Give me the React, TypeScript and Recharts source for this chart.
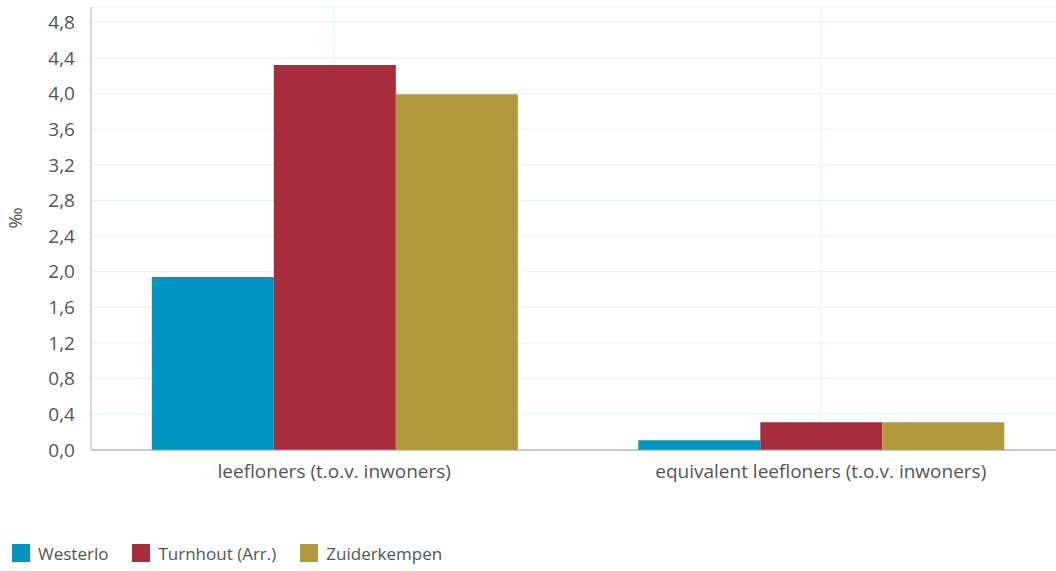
import React from 'react'
import {
  BarChart,
  Bar,
  XAxis,
  YAxis,
  CartesianGrid,
  Legend,
} from 'recharts'

const categories = ['leefloners (t.o.v. inwoners)', 'equivalent leefloners (t.o.v. inwoners)']
const westerlo = [1.94, 0.11]
const turnhout = [4.32, 0.31]
const zuiderkempen = [3.99, 0.31]
const yTicks = [0, 0.4, 0.8, 1.2, 1.6, 2.0, 2.4, 2.8, 3.2, 3.6, 4.0, 4.4, 4.8]

const series = [
  { key: 'westerlo', name: 'Westerlo', color: '#0096c1' },
  { key: 'turnhout', name: 'Turnhout (Arr.)', color: '#a82d3c' },
  { key: 'zuiderkempen', name: 'Zuiderkempen', color: '#b3993e' },
]

const data = categories.map((name, i) => ({
  name,
  westerlo: westerlo[i],
  turnhout: turnhout[i],
  zuiderkempen: zuiderkempen[i],
}))

const FONT = '"Open Sans", "Noto Sans", sans-serif'
const fmt = (v: number) => v.toFixed(1).replace('.', ',')

function LegendBox() {
  return (
    <div style={{ height: 36, display: 'flex', alignItems: 'center', fontFamily: FONT, fontSize: 17, color: '#555' }}>
      {series.map((s) => (
        <div key={s.key} style={{ display: 'flex', alignItems: 'center', marginRight: 24 }}>
          <span style={{ width: 18, height: 18, background: s.color, display: 'inline-block', marginRight: 8 }} />
          {s.name}
        </div>
      ))}
    </div>
  )
}

export default function App() {
  return (
    <div style={{ position: 'absolute', left: 0, top: 0, width: 1056, height: 571, overflow: 'hidden', background: '#fff' }}>
      <BarChart
        width={1070}
        height={571}
        data={data}
        margin={{ top: 7, right: 6, bottom: 0, left: 0 }}
        barCategoryGap="12.5%"
        barGap={0}
      >
        <CartesianGrid stroke="#e4f2f5" />
        <XAxis
          dataKey="name"
          height={85}
          tickLine={false}
          axisLine={{ stroke: '#999' }}
          tickMargin={9}
          tick={{ fontSize: 19, fill: '#555', fontFamily: FONT }}
        />
        <XAxis xAxisId="top" orientation="top" dataKey="name" height={0} tick={false} tickLine={false} axisLine={{ stroke: '#bbb' }} />
        <YAxis
          width={91}
          domain={[0, 4.97]}
          ticks={yTicks}
          tickFormatter={fmt}
          tickLine={false}
          tickSize={0}
          tickMargin={16}
          axisLine={{ stroke: '#bbb' }}
          tick={{ fontSize: 19, fill: '#555', fontFamily: FONT }}
          label={{ value: '‰', angle: -90, position: 'insideLeft', offset: 16, style: { fontSize: 18, fill: '#555', fontFamily: FONT } }}
        />
        <Legend verticalAlign="bottom" align="left" content={<LegendBox />} wrapperStyle={{ left: 12 }} />
        {series.map((s) => (
          <Bar key={s.key} dataKey={s.key} name={s.name} fill={s.color} isAnimationActive={false} />
        ))}
      </BarChart>
    </div>
  )
}
